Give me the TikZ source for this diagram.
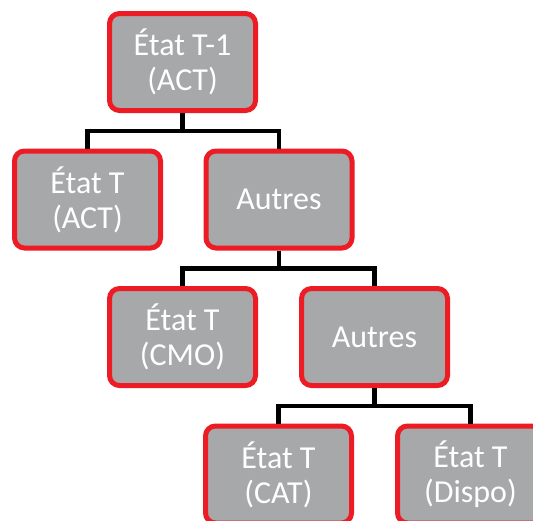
\documentclass[tikz,border=0pt]{standalone}
\usepackage{fontspec}
\setmainfont{Carlito}
\definecolor{boxgray}{RGB}{167,168,170}
\definecolor{boxred}{RGB}{237,28,36}
\tikzset{
  treebox/.style={draw=boxred, line width=5pt, fill=boxgray, rounded corners=10pt,
    minimum width=146pt, minimum height=97pt, inner sep=0pt, text=white,
    align=center, font=\fontsize{32}{35}\selectfont},
  link/.style={draw=black, line width=4.5pt}
}
\begin{document}
\begin{tikzpicture}[x=1pt,y=-1pt]
\useasboundingbox (0,0) rectangle (533,520);
\node[treebox] (n1) at (182.5,62) {État T-1\\(ACT)};
\node[treebox] (n2) at (87.5,199.5) {État T\\(ACT)};
\node[treebox] (n3) at (279,199.5) {Autres};
\node[treebox] (n4) at (182.5,337) {État T\\(CMO)};
\node[treebox] (n5) at (374.5,337) {Autres};
\node[treebox] (n6) at (278.5,474.5) {État T\\(CAT)};
\node[treebox] (n7) at (470.5,474.5) {État T\\(Dispo)};
\draw[link] (n1.south) -- ++(0,18) -| (n2.north);
\draw[link] (n1.south) -- ++(0,18) -| (n3.north);
\draw[link] (n3.south) -- ++(0,18) -| (n4.north);
\draw[link] (n3.south) -- ++(0,18) -| (n5.north);
\draw[link] (n5.south) -- ++(0,18) -| (n6.north);
\draw[link] (n5.south) -- ++(0,18) -| (n7.north);
\end{tikzpicture}
\end{document}
